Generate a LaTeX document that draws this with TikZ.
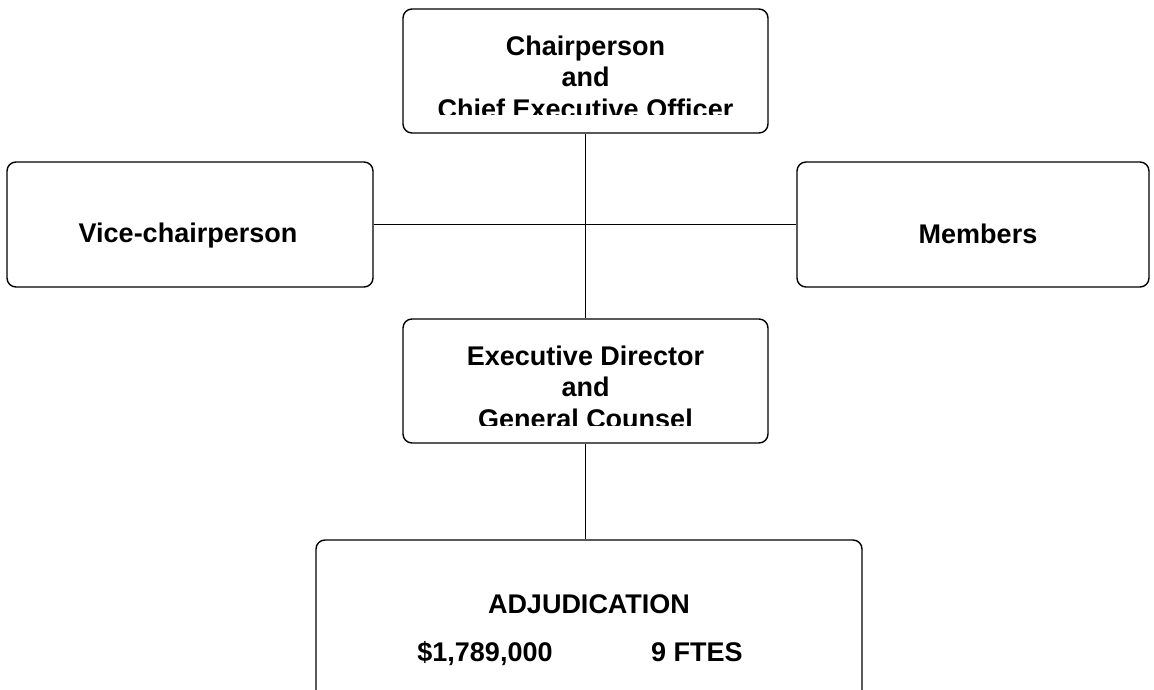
\documentclass[tikz,border=0pt]{standalone}
\usepackage{fontspec}
\setmainfont{Liberation Sans}
\usetikzlibrary{positioning}

\begin{document}
\begin{tikzpicture}[x=1pt, y=-1pt,
  boite/.style={draw, line width=1.4pt, rounded corners=9pt, inner sep=0pt},
  texte/.style={align=center, inner sep=0pt, font=\bfseries\fontsize{27}{31.5}\selectfont},
  lien/.style={line width=1.3pt}]
  \useasboundingbox (0,0) rectangle (1154,690);
  % Cadres
  \node[boite, minimum width=365pt, minimum height=124pt] (chair) at (585.5,71) {};
  \node[boite, minimum width=366pt, minimum height=125pt] (vice) at (190,224.5) {};
  \node[boite, minimum width=352pt, minimum height=125pt] (members) at (973,224.5) {};
  \node[boite, minimum width=365pt, minimum height=124pt] (director) at (585.5,381) {};
  \node[boite, minimum width=546pt, minimum height=160pt] (adjud) at (589,620) {};
  % Textes (coupés en bas)
  \begin{scope}
    \clip (403,9) rectangle (768,115);
    \node[texte] (chairtxt) at (585.5,77) {Chairperson\\and\\Chief Executive Officer};
  \end{scope}
  \begin{scope}
    \clip (403,319) rectangle (768,425);
    \node[texte] (directortxt) at (585.5,387) {Executive Director\\and\\General Counsel};
  \end{scope}
  \node[texte] (vicetxt) at (188,236) {Vice-chairperson};
  \node[texte] (memberstxt) at (978,234) {Members};
  \node[texte, anchor=base] (adjudtxt) at (589,613) {ADJUDICATION};
  \node[texte, anchor=base] (amount) at (485,661) {\$1,789,000};
  \node[texte, anchor=base] (ftes) at (697,661) {9 FTES};
  % Liens
  \draw[lien] (chair.south) -- (director.north);
  \draw[lien] (vice.east) -- (members.west);
  \draw[lien] (director.south) -- (director.south |- adjud.north);
\end{tikzpicture}
\end{document}
